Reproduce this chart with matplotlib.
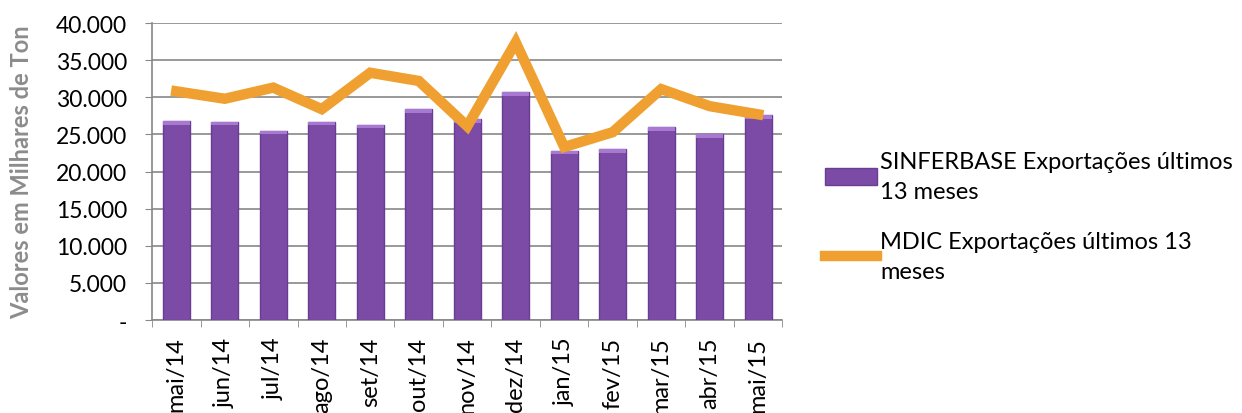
import matplotlib
matplotlib.use('Agg')
import matplotlib.pyplot as plt
from matplotlib.ticker import FuncFormatter, FixedLocator
import numpy as np

meses = ['mai/14', 'jun/14', 'jul/14', 'ago/14', 'set/14', 'out/14', 'nov/14',
         'dez/14', 'jan/15', 'fev/15', 'mar/15', 'abr/15', 'mai/15']
sinferbase = [26800, 26700, 25500, 26700, 26300, 28400, 27100,
              30700, 22800, 23000, 26000, 25000, 27600]
mdic = [30800, 29800, 31300, 28400, 33300, 32200, 26100,
        37400, 23300, 25300, 31100, 28800, 27700]

plt.rcParams['font.family'] = ['Lato', 'DejaVu Sans']

fig = plt.figure(figsize=(12.42, 4.14), dpi=100)
ax = fig.add_axes([0.1224, 0.2246, 0.5076, 0.7174])

x = np.arange(len(meses))
bars = ax.bar(x, sinferbase, width=0.56, color='#7B4BA6', edgecolor='#6A3D92',
              linewidth=1.0, zorder=3, label='SINFERBASE Exportações últimos\n13 meses')
# lighter cap on top of each bar
ax.bar(x, [500] * len(x), bottom=np.array(sinferbase) - 500, width=0.56,
       color='#A779D0', linewidth=0, zorder=4)
line, = ax.plot(x, mdic, color='#F0A030', linewidth=7.5, solid_joinstyle='miter',
                zorder=5, label='MDIC Exportações últimos 13\nmeses')

ax.set_xlim(-0.5, len(meses) - 0.5)
ax.set_ylim(0, 40000)
ax.set_yticks(np.arange(0, 40001, 5000))
ax.yaxis.set_major_formatter(FuncFormatter(
    lambda v, p: '-' if v == 0 else '{:,.0f}'.format(v).replace(',', '.')))
ax.yaxis.grid(True, color='#888888', linewidth=1.2, zorder=0)
ax.set_axisbelow(True)

ax.set_xticks(x)
ax.set_xticklabels(meses, rotation=90, fontsize=17)
ax.xaxis.set_minor_locator(FixedLocator(np.arange(-0.5, len(meses), 1)))
ax.tick_params(axis='x', which='major', length=0, pad=12)
ax.tick_params(axis='x', which='minor', length=5, color='#888888')
ax.tick_params(axis='y', labelsize=16.5, length=5, color='#888888', pad=13)

for s in ['top', 'right']:
    ax.spines[s].set_visible(False)
for s in ['left', 'bottom']:
    ax.spines[s].set_color('#888888')
    ax.spines[s].set_linewidth(1.2)

ax.set_ylabel('Valores em Milhares de Ton', fontsize=17, fontweight='bold',
              color='#8C8C8C', labelpad=16)

leg = fig.legend(handles=[bars, line], loc='center left', bbox_to_anchor=(0.664, 0.475),
                 frameon=False, fontsize=17, handlelength=2.2, handletextpad=0.15,
                 labelspacing=1.2, borderpad=0, borderaxespad=0)
for t in leg.get_texts():
    t.set_linespacing(1.55)

fig.savefig('out.png', dpi=100)
